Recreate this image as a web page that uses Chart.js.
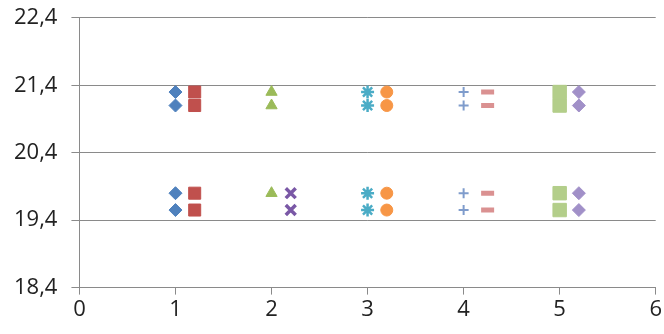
<!DOCTYPE html>
<html>
<head>
  <meta charset="UTF-8">
  <title>Scatter</title>
  <script src="https://cdn.jsdelivr.net/npm/chart.js"></script>
  <style>
    body {
      margin: 0;
      padding: 0;
      background: #ffffff;
    }
    #chart {
      display: block;
    }
  </style>
</head>
<body>

<canvas id="chart" width="664" height="334"></canvas>

<script>
  // x position of each series (marker columns)
  const xPos = [1, 1.2, 2, 2.2, 3, 3.2, 4, 4.25, 5, 5.2];

  // y values of each series
  const yS1 = [21.3, 21.1, 19.8, 19.55];
  const yS2 = [21.3, 21.1, 19.8, 19.55];
  const yS3 = [21.3, 21.1, 19.8];
  const yS4 = [19.8, 19.55];
  const yS5 = [21.3, 21.1, 19.8, 19.55];
  const yS6 = [21.3, 21.1, 19.8, 19.55];
  const yS7 = [21.3, 21.1, 19.8, 19.55];
  const yS8 = [21.3, 21.1, 19.8, 19.55];
  const yS9 = [21.3, 21.1, 19.8, 19.55];
  const yS10 = [21.3, 21.1, 19.8, 19.55];

  const yTicks = [18.4, 19.4, 20.4, 21.4, 22.4];
  const xTicks = [0, 1, 2, 3, 4, 5, 6];

  const allY = [yS1, yS2, yS3, yS4, yS5, yS6, yS7, yS8, yS9, yS10];

  // marker look per series
  const styles = [
    { style: 'rectRot',  color: '#4F81BD', radius: 6.5, fill: true,  bw: 1 },
    { style: 'rect',     color: '#C0504D', radius: 8.5, fill: true,  bw: 1 },
    { style: 'triangle', color: '#9BBB59', radius: 6.5, fill: true,  bw: 1 },
    { style: 'crossRot', color: '#7A58A6', radius: 7,   fill: false, bw: 3.5 },
    { style: 'star',     color: '#4BACC6', radius: 6.5, fill: false, bw: 2.5 },
    { style: 'circle',   color: '#F79646', radius: 6,   fill: true,  bw: 1 },
    { style: 'cross',    color: '#7F9CCC', radius: 5,   fill: false, bw: 2 },
    { style: 'line',     color: '#DA9191', radius: 6.5, fill: false, bw: 5 },
    { style: 'rect',     color: '#B3CE8A', radius: 9.5, fill: true,  bw: 1 },
    { style: 'rectRot',  color: '#A190C8', radius: 6.5, fill: true,  bw: 1 }
  ];

  const datasets = allY.map((ys, i) => ({
    label: 'S' + (i + 1),
    data: ys.map(y => ({ x: xPos[i], y: y })),
    pointStyle: styles[i].style,
    pointRadius: styles[i].radius,
    pointBorderWidth: styles[i].bw,
    borderColor: styles[i].color,
    backgroundColor: styles[i].fill ? styles[i].color : 'rgba(0,0,0,0)',
    showLine: false
  }));

  const fmt = v => Number(v).toFixed(1).replace('.', ',');

  new Chart(document.getElementById('chart').getContext('2d'), {
    type: 'scatter',
    data: { datasets: datasets },
    options: {
      responsive: false,
      animation: false,
      layout: {
        autoPadding: false,
        padding: { left: 0, right: 5, top: 8, bottom: 9 }
      },
      plugins: {
        legend: { display: false },
        tooltip: { enabled: false }
      },
      scales: {
        x: {
          type: 'linear',
          min: 0,
          max: 6,
          afterBuildTicks: scale => { scale.ticks = xTicks.map(v => ({ value: v })); },
          grid: {
            drawOnChartArea: false,
            drawTicks: true,
            tickLength: 7,
            color: '#8a8a8a'
          },
          border: { color: '#8a8a8a', width: 1 },
          ticks: {
            color: '#222222',
            font: { family: 'Open Sans', size: 22 },
            padding: 2
          }
        },
        y: {
          type: 'linear',
          min: 18.4,
          max: 22.4,
          afterBuildTicks: scale => { scale.ticks = yTicks.map(v => ({ value: v })); },
          grid: {
            color: '#8a8a8a',
            drawTicks: true,
            tickLength: 8
          },
          border: { color: '#8a8a8a', width: 1 },
          ticks: {
            color: '#222222',
            // small lineHeight keeps the top/bottom label padding tight
            font: { family: 'Open Sans', size: 22, lineHeight: 0.35 },
            padding: 14,
            callback: v => fmt(v)
          }
        }
      }
    }
  });
</script>

</body>
</html>
